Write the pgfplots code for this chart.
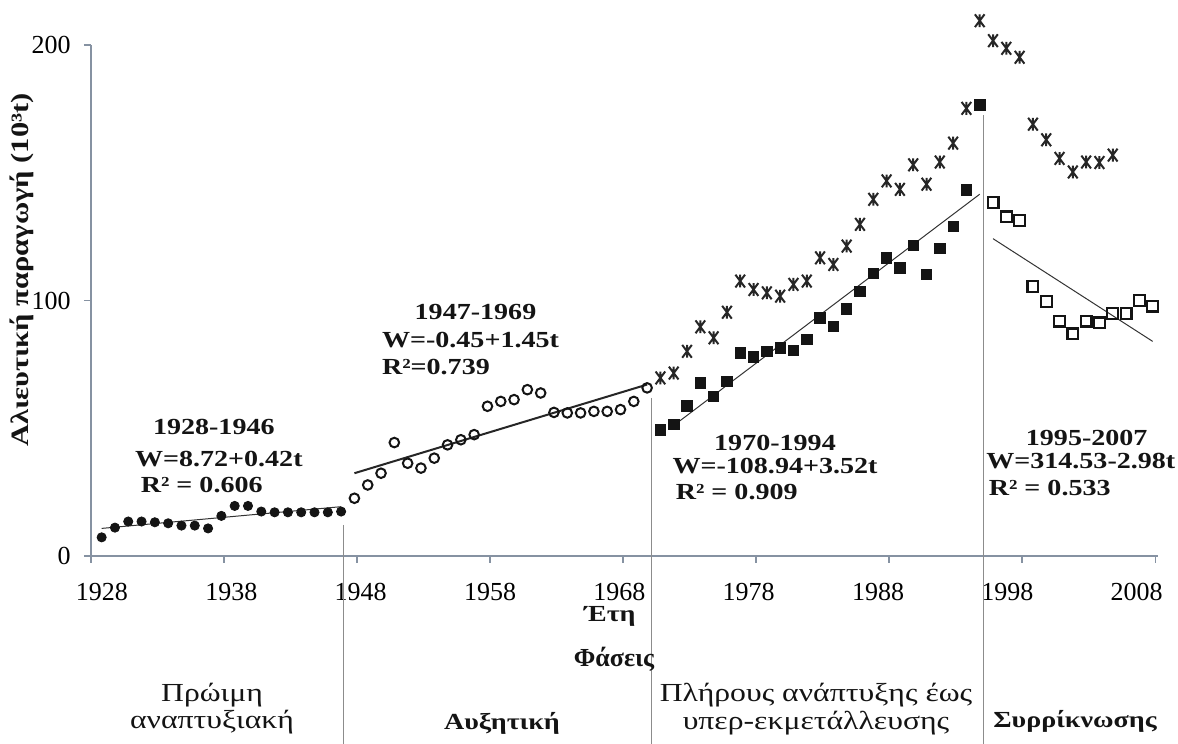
\documentclass[border=0pt]{standalone}
\usepackage{pgfplots}
\pgfplotsset{compat=1.18}
\usepackage{fontspec}
\setmainfont{Liberation Serif}
\newfontfamily\wfont{Liberation Serif}[FakeStretch=1.22]
\definecolor{axisc}{RGB}{134,146,162}
\definecolor{sepc}{RGB}{140,140,140}
\definecolor{ink}{RGB}{20,20,20}
\pgfdeclareplotmark{zh}{%
  \pgfpathmoveto{\pgfpoint{0pt}{\pgfplotmarksize}}%
  \pgfpathlineto{\pgfpoint{0pt}{-\pgfplotmarksize}}%
  \pgfpathmoveto{\pgfpoint{-0.75\pgfplotmarksize}{\pgfplotmarksize}}%
  \pgfpathlineto{\pgfpoint{0.75\pgfplotmarksize}{-\pgfplotmarksize}}%
  \pgfpathmoveto{\pgfpoint{0.75\pgfplotmarksize}{\pgfplotmarksize}}%
  \pgfpathlineto{\pgfpoint{-0.75\pgfplotmarksize}{-\pgfplotmarksize}}%
  \pgfusepathqstroke}
\begin{document}
\begin{tikzpicture}
\useasboundingbox (0,0) rectangle (589pt,372pt);
\begin{axis}[
  at={(45.5pt,94pt)}, anchor=south west,
  scale only axis, width=533.5pt, height=255.5pt,
  xmin=1927.2, xmax=2007.4, ymin=0, ymax=200,
  clip=false,
  axis x line*=bottom, axis y line*=left,
  axis line style={draw=axisc, line width=0.8pt},
  tick align=outside, major tick length=3.5pt,
  every tick/.style={draw=axisc, line width=0.8pt},
  xtick={1927.2,1937.2,1947.2,1957.2,1967.2,1977.2,1987.2,1997.2,2007.2},
  xticklabels={1928,1938,1948,1958,1968,1978,1988,1998,2008},
  ytick={0,100,200},
  ticklabel style={font=\fontsize{13}{15}\selectfont},
  xticklabel style={anchor=base, inner sep=0pt, yshift=-18.5pt, xshift={5.5pt-1.85pt*\ticknum}},
  yticklabel style={anchor=east, inner sep=0pt, xshift=-6.5pt},
  /pgf/number format/assume math mode=true,
]
% 1928-1946
\addplot[only marks, mark=*, mark size=2.3pt, color=ink] coordinates {
(1928,7.3)(1929,11.1)(1930,13.5)(1931,13.5)(1932,13.2)(1933,12.8)(1934,11.9)(1935,11.9)(1936,10.8)(1937,15.7)
(1938,19.6)(1939,19.6)(1940,17.4)(1941,17.1)(1942,17.1)(1943,17.1)(1944,17.1)(1945,17.1)(1946,17.4)};
% 1947-1969
\addplot[only marks, mark=o, mark size=2.4pt, line width=1pt, color=ink] coordinates {
(1947,22.6)(1948,27.8)(1949,32.4)(1950,44.4)(1951,36.3)(1952,34.4)(1953,38.3)(1954,43.5)(1955,45.5)(1956,47.5)
(1957,58.6)(1958,60.5)(1959,61.2)(1960,65.1)(1961,63.8)(1962,56.2)(1963,56.0)(1964,56.0)(1965,56.6)(1966,56.6)
(1967,57.3)(1968,60.5)(1969,65.8)};
% 1970-1994
\addplot[only marks, mark=square*, mark size=2.6pt, color=ink] coordinates {
(1970,49.4)(1971,51.4)(1972,58.8)(1973,67.7)(1974,62.5)(1975,68.4)(1976,79.5)(1977,77.9)(1978,80.1)(1979,81.4)
(1980,80.5)(1981,84.7)(1982,93.2)(1983,89.9)(1984,96.7)(1985,103.6)(1986,110.6)(1987,116.7)(1988,112.8)(1989,121.6)
(1990,110.2)(1991,120.3)(1992,128.9)(1993,143.3)(1994,176.5)};
% 1995-2007
\addplot[only marks, mark=square, mark size=2.7pt, line width=1.1pt, color=ink] coordinates {
(1995,138.3)(1996,132.7)(1997,131.4)(1998,105.4)(1999,99.7)(2000,91.9)(2001,86.9)(2002,91.9)(2003,91.2)(2004,94.9)
(2005,94.8)(2006,100.1)(2007,97.8)};
% asterisks
\addplot[only marks, mark=zh, mark size=3.2pt, line width=1pt, color=black!85] coordinates {
(1970,69.7)(1971,71.6)(1972,80.1)(1973,89.7)(1974,85.4)(1975,95.4)(1976,107.6)(1977,104.3)(1978,103.0)(1979,101.7)
(1980,106.3)(1981,107.6)(1982,116.7)(1983,114.1)(1984,121.3)(1985,129.8)(1986,139.6)(1987,146.8)(1988,143.5)(1989,153.1)
(1990,145.5)(1991,154.2)(1992,161.6)(1993,175.2)(1994,209.5)(1995,201.7)(1996,198.7)(1997,195.2)(1998,169.0)(1999,162.9)
(2000,155.6)(2001,150.3)(2002,154.2)(2003,154.0)(2004,156.9)};
% trend lines
\addplot[black!80, line width=0.5pt] coordinates {(1928,10.8)(1946,19.3)};
\addplot[black!85, line width=1pt] coordinates {(1947,32.4)(1969,67.1)};
\addplot[black!80, line width=0.5pt] coordinates {(1970.7,49.9)(1994,141.6)};
\addplot[black!80, line width=0.5pt] coordinates {(1995,124.2)(2007,84.0)};
% phase separators
\draw[sepc, line width=0.6pt] (axis cs:1946.15,12.2) -- (axis cs:1946.15,-75);
\draw[sepc, line width=0.6pt] (axis cs:1969.3,61.9) -- (axis cs:1969.3,-75);
\draw[sepc, line width=0.6pt] (axis cs:1994.26,172.6) -- (axis cs:1994.26,-75);
\end{axis}
% annotations
\begin{scope}[every node/.style={inner sep=0pt, text=ink, font=\wfont\bfseries\fontsize{11.5}{13}\selectfont}]
\node at (106.9pt,158.5pt) {1928-1946};
\node at (109.4pt,142.5pt) {W=8.72+0.42t};
\node at (100.85pt,129.5pt) {R² = 0.606};
\node at (237.75pt,215.75pt) {1947-1969};
\node[anchor=west] at (190.8pt,202pt) {W=-0.45+1.45t};
\node[anchor=west] at (190.8pt,188.5pt) {R²=0.739};
\node at (387.5pt,150.75pt) {1970-1994};
\node at (387.5pt,139.1pt) {W=-108.94+3.52t};
\node at (368.35pt,125.75pt) {R² = 0.909};
\node at (543.35pt,153.25pt) {1995-2007};
\node at (540.4pt,141.6pt) {W=314.53-2.98t};
\node at (524.85pt,127.85pt) {R² = 0.533};
\node at (305pt,64pt) {Έτη};
\node[font=\bfseries\fontsize{13}{15}\selectfont] at (307pt,42.5pt) {Φάσεις};
\node[anchor=base] at (251pt,7pt) {Αυξητική};
\node[anchor=base] at (537.5pt,8pt) {Συρρίκνωσης};
\node[rotate=90, font=\wfont\bfseries\fontsize{12.5}{14}\selectfont] at (11pt,237pt) {Αλιευτική παραγωγή (10³t)};
\end{scope}
\begin{scope}[every node/.style={inner sep=0pt, text=ink, font=\wfont\fontsize{13}{15}\selectfont}]
\node[anchor=base] at (106pt,21pt) {Πρώιμη};
\node[anchor=base] at (106pt,7.5pt) {αναπτυξιακή};
\node[anchor=base] at (408pt,21pt) {Πλήρους ανάπτυξης έως};
\node[anchor=base] at (408pt,7pt) {υπερ-εκμετάλλευσης};
\end{scope}
\end{tikzpicture}
\end{document}
